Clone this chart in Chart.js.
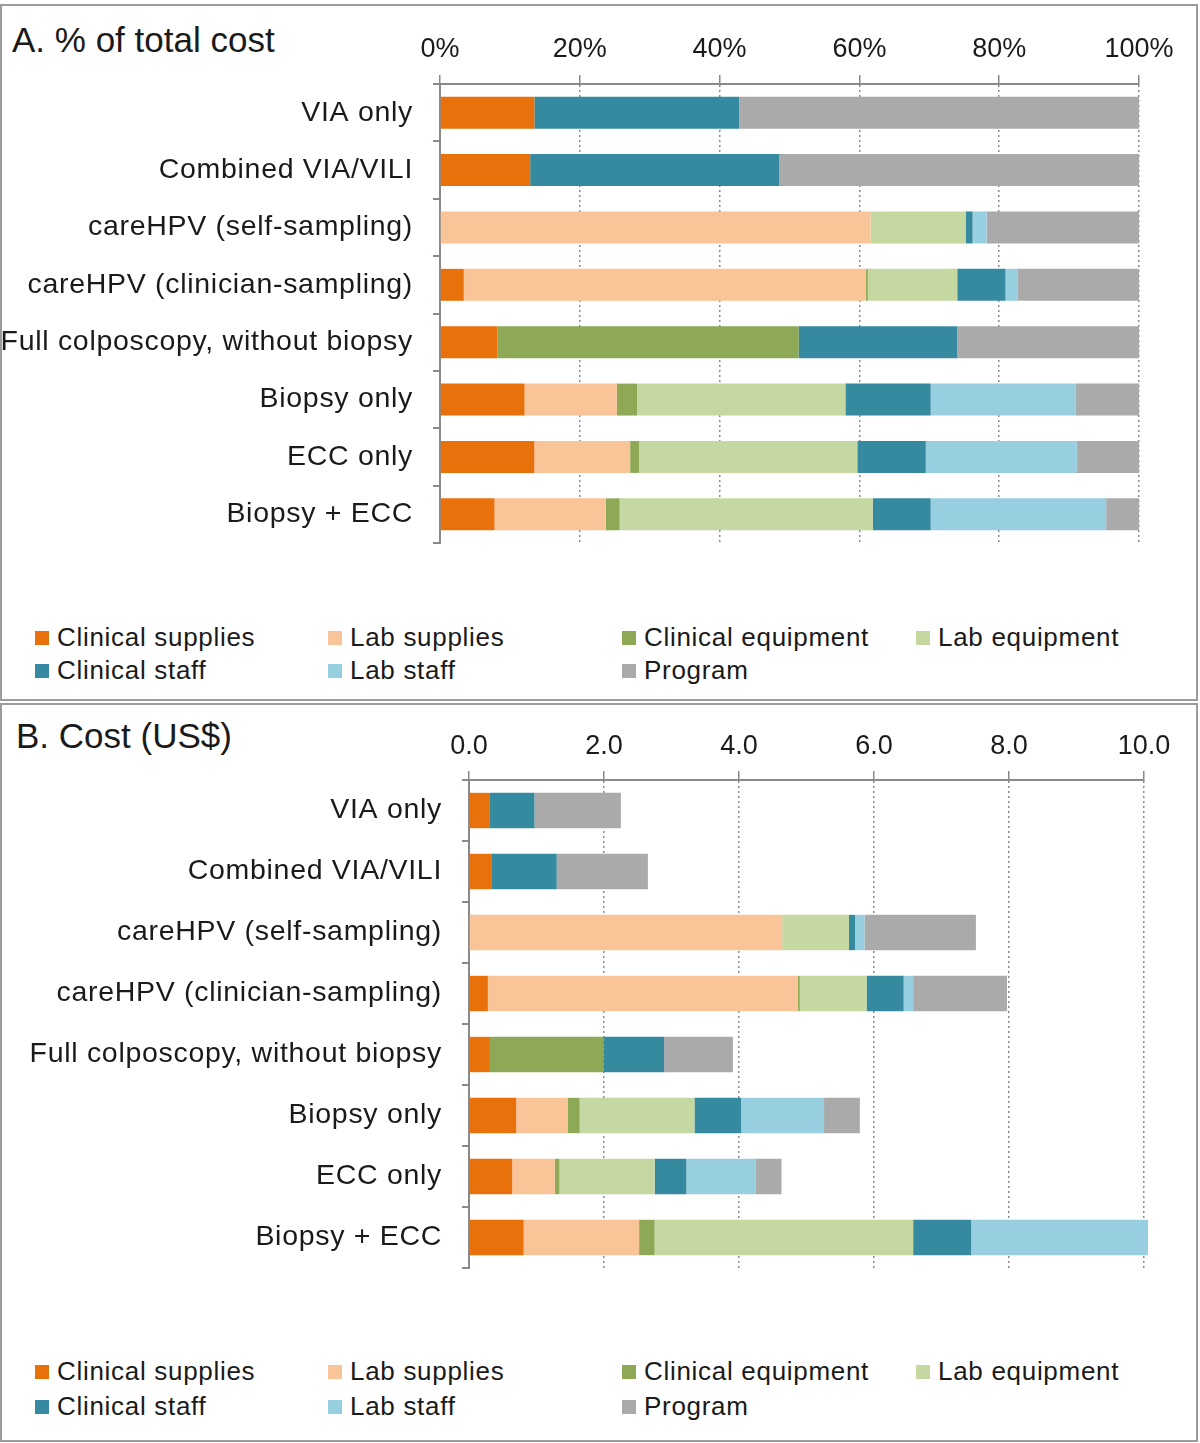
<!DOCTYPE html>
<html>
<head>
<meta charset="utf-8">
<script src="https://cdn.jsdelivr.net/npm/chart.js@4"></script>
<style>
  html, body { margin: 0; padding: 0; background: #fff; }
  body { width: 1200px; height: 1443px; position: relative; overflow: hidden;
         font-family: "Liberation Sans", Arial, sans-serif; color: #1a1a1a; }
  .panel { position: absolute; left: 0; width: 1198px; box-sizing: border-box; border: 2px solid #9c9c9c; }
  .title { position: absolute; font-size: 35px; line-height: 40px; white-space: nowrap; }
  canvas { position: absolute; left: 0; }
  .leg { position: absolute; font-size: 26px; line-height: 30px; white-space: nowrap; letter-spacing: 0.7px; }
  .leg span.sq { position: absolute; left: -22px; top: 9px; width: 14px; height: 14px; }
</style>
</head>
<body>
<div class="panel" style="top:4px;height:697px;"></div>
<div class="panel" style="top:703px;height:739px;"></div>
<div class="title" style="left:12px;top:20px;">A. % of total cost</div>
<div class="title" style="left:16px;top:716px;">B. Cost (US$)</div>
<canvas id="chartA" width="1200" height="600" style="top:0px;width:1200px;height:600px;"></canvas>
<canvas id="chartB" width="1200" height="620" style="top:700px;width:1200px;height:620px;"></canvas>
<div id="legA"></div>
<div id="legB"></div>
<script>
// ---- Data ----
const categories = [
  "VIA only",
  "Combined VIA/VILI",
  "careHPV (self-sampling)",
  "careHPV (clinician-sampling)",
  "Full colposcopy, without biopsy",
  "Biopsy only",
  "ECC only",
  "Biopsy + ECC"
];
const seriesNames = ["Clinical supplies", "Lab supplies", "Clinical equipment", "Lab equipment",
                     "Clinical staff", "Lab staff", "Program"];

// Panel A: % of total cost
const pctClinicalSupplies   = [13.5, 12.9, 0,    3.4,  8.2,  12.1, 13.5, 7.8];
const pctLabSupplies        = [0,    0,    61.6, 57.5, 0,    13.2, 13.7, 15.9];
const pctClinicalEquipment  = [0,    0,    0,    0.3,  43.1, 2.9,  1.3,  2.0];
const pctLabEquipment       = [0,    0,    13.6, 12.8, 0,    29.8, 31.2, 36.2];
const pctClinicalStaff      = [29.3, 35.6, 1.0,  6.9,  22.7, 12.2, 9.8,  8.3];
const pctLabStaff           = [0,    0,    2.0,  1.7,  0,    20.7, 21.6, 25.1];
const pctProgram            = [57.2, 51.5, 21.8, 17.4, 26.0, 9.1,  8.9,  4.7];

// Panel B: cost (US$)
const usdClinicalSupplies   = [0.31, 0.34, 0,    0.28, 0.31, 0.70, 0.64, 0.81];
const usdLabSupplies        = [0,    0,    4.64, 4.59, 0,    0.76, 0.63, 1.71];
const usdClinicalEquipment  = [0,    0,    0,    0.03, 1.68, 0.18, 0.07, 0.23];
const usdLabEquipment       = [0,    0,    0.99, 0.99, 0,    1.70, 1.41, 3.83];
const usdClinicalStaff      = [0.66, 0.96, 0.09, 0.55, 0.90, 0.69, 0.47, 0.86];
const usdLabStaff           = [0,    0,    0.14, 0.14, 0,    1.23, 1.03, 2.64];
const usdProgram            = [1.28, 1.35, 1.65, 1.39, 1.02, 0.53, 0.38, 0.49];

const pctTicks = ["0%", "20%", "40%", "60%", "80%", "100%"];
const usdTicks = ["0.0", "2.0", "4.0", "6.0", "8.0", "10.0"];

// ---- Styles ----
const colors = ["#e8710c", "#fac499", "#8da955", "#c6d8a1", "#358a9f", "#98cfe0", "#aaaaaa"];
const FONT = "'Liberation Sans', Arial, sans-serif";
const axisColor = "#8a8a8a";

function makeDatasets(arrays) {
  return arrays.map((d, i) => ({
    label: seriesNames[i],
    data: d,
    backgroundColor: colors[i],
    borderWidth: 0,
    clip: { left: 5, top: 5, right: 4, bottom: 5 }
  }));
}

function spacedLabels(s) {
  if (s._spaced) return;
  s._spaced = true;
  const orig = s.drawLabels.bind(s);
  s.drawLabels = function (ca) {
    const ctx = this.ctx;
    ctx.save();
    try { ctx.letterSpacing = "0.7px"; } catch (e) {}
    orig(ca);
    ctx.restore();
  };
}

function makeChart(id, arrays, maxVal, step, tickLabels, cfg) {
  return new Chart(document.getElementById(id), {
    type: "bar",
    data: { labels: categories, datasets: makeDatasets(arrays) },
    options: {
      indexAxis: "y",
      responsive: false,
      animation: false,
      devicePixelRatio: 1,
      barPercentage: cfg.barPct,
      categoryPercentage: 1,
      layout: { padding: { left: 0, top: 0, right: cfg.padRight, bottom: cfg.padBottom } },
      plugins: { legend: { display: false }, tooltip: { enabled: false } },
      scales: {
        x: {
          position: "top",
          stacked: true,
          min: 0, max: maxVal,
          afterFit: s => { s.height = cfg.xHeight; },
          afterBuildTicks: s => { s.ticks = tickLabels.map((t, i) => ({ value: i * step })); },
          ticks: {
            callback: (v, i) => tickLabels[i],
            color: "#1a1a1a",
            font: { family: FONT, size: 27 },
            padding: cfg.xTickPad,
            maxRotation: 0, autoSkip: false
          },
          grid: {
            color: axisColor,
            lineWidth: 1.5,
            tickLength: 9,
            tickBorderDash: [],
            drawOnChartArea: true
          },
          border: { display: true, color: axisColor, width: 2, dash: [2, 3] }
        },
        y: {
          stacked: true,
          afterFit: s => { s.width = cfg.yWidth; spacedLabels(s); },
          ticks: {
            color: "#1a1a1a",
            font: { family: FONT, size: 28.5 },
            padding: 20,
            autoSkip: false
          },
          grid: {
            offset: true,
            drawOnChartArea: false,
            color: axisColor,
            lineWidth: 2,
            tickLength: 7
          },
          border: { display: true, color: axisColor, width: 2 }
        }
      }
    }
  });
}

makeChart("chartA",
  [pctClinicalSupplies, pctLabSupplies, pctClinicalEquipment, pctLabEquipment, pctClinicalStaff, pctLabStaff, pctProgram],
  100, 20, pctTicks,
  { yWidth: 440, xHeight: 84, padRight: 61, padBottom: 57, xTickPad: 9, barPct: 0.557 });

makeChart("chartB",
  [usdClinicalSupplies, usdLabSupplies, usdClinicalEquipment, usdLabEquipment, usdClinicalStaff, usdLabStaff, usdProgram],
  10, 2, usdTicks,
  { yWidth: 469, xHeight: 80, padRight: 56, padBottom: 52, xTickPad: 8, barPct: 0.58 });

// ---- Legends (HTML) ----
function buildLegend(id, rowTops) {
  const cols = [57, 350, 644, 938];
  const host = document.getElementById(id);
  seriesNames.forEach((name, i) => {
    const row = i < 4 ? 0 : 1;
    const col = i < 4 ? i : i - 4;
    const d = document.createElement("div");
    d.className = "leg";
    d.style.left = cols[col] + "px";
    d.style.top = rowTops[row] + "px";
    d.innerHTML = '<span class="sq" style="background:' + colors[i] + '"></span>' + name;
    host.appendChild(d);
  });
}
buildLegend("legA", [622, 655]);
buildLegend("legB", [1356, 1391]);
</script>
</body>
</html>
